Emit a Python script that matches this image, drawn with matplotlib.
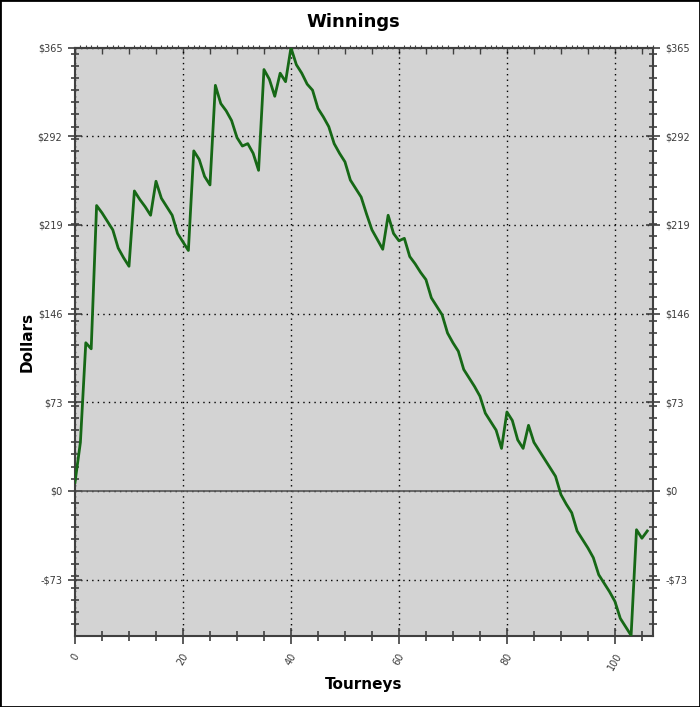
import numpy as np
import matplotlib
matplotlib.use('Agg')
import matplotlib.pyplot as plt
from matplotlib.ticker import MultipleLocator, FuncFormatter
from matplotlib.patches import Rectangle

# running winnings per tourney
tourney=np.arange(107)
winnings=[7,40,122,117,235,229,222,215,200,192,
          185,247,240,234,227,255,241,234,227,212,
          205,198,280,273,259,252,334,319,313,305,
          291,284,286,278,264,347,339,325,344,337,
          365,351,344,335,330,315,308,300,286,278,
          271,256,249,242,228,215,207,199,227,212,
          206,208,193,187,180,174,159,152,145,130,
          122,115,100,93,86,78,64,57,50,35,
          65,58,42,35,54,40,33,26,19,12,
          -3,-11,-18,-33,-40,-47,-55,-69,-76,-83,
          -91,-105,-112,-119,-32,-39,-33]
yticks=[-73,0,73,146,219,292,365]
xticks=[0,20,40,60,80,100]

fig=plt.figure(figsize=(7,7.07),dpi=100)
fig.patch.set_facecolor('white')
fig.patches.append(Rectangle((0,0),1,1,transform=fig.transFigure,fill=False,
                             edgecolor='black',linewidth=2))
ax=fig.add_axes([75/700,1-636/707,(652.7-75)/700,(636-47.7)/707])
ax.set_facecolor('#d3d3d3')

ax.plot(tourney,winnings,color='#166816',lw=2,zorder=3)
ax.axhline(0,color='#555555',lw=1.2,zorder=2)

ax.set_xlim(0,107)
ax.set_ylim(-119.5,365)
ax.set_xticks(xticks)
ax.set_yticks(yticks)
ax.xaxis.set_minor_locator(MultipleLocator(5))
ax.yaxis.set_minor_locator(MultipleLocator(10))
ax.yaxis.set_major_formatter(FuncFormatter(lambda v,p:'-$%d'%abs(v) if v<0 else '$%d'%v))
ax.grid(True,which='major',color='black',ls=(0,(1,3)),lw=1)

for s in ax.spines.values():
    s.set_color('#404040')
    s.set_linewidth(1.5)

ax.tick_params(axis='y',which='both',direction='inout',left=True,right=True,
               labelleft=True,labelright=True,labelsize=7,labelcolor='#3a3a3a',color='#404040')
ax.tick_params(axis='y',which='major',length=10,width=1.2,pad=4)
ax.tick_params(axis='y',which='minor',length=6,width=1.2)
ax.tick_params(axis='x',which='both',direction='inout',bottom=True,top=False,
               labelsize=7,labelcolor='#3a3a3a',color='#404040')
ax.tick_params(axis='x',which='major',length=12,width=1.2,pad=5)
ax.tick_params(axis='x',which='minor',length=7,width=1.2)
for lb in ax.get_xticklabels():
    lb.set_rotation(60)
    lb.set_ha('center')

# dense ticks along the top edge
top=ax.secondary_xaxis('top')
top.set_xticks(np.arange(0,108,5))
top.xaxis.set_minor_locator(MultipleLocator(1))
top.tick_params(which='major',direction='in',length=4,width=1,color='#404040',labeltop=False)
top.tick_params(which='minor',direction='out',length=2,width=0.8,color='#404040')
top.spines['top'].set_color('#404040')
top.spines['top'].set_linewidth(1.5)

fig.text(0.505,1-22/707,'Winnings',ha='center',va='center',fontsize=13,fontweight='bold')
fig.text(364/700,1-684/707,'Tourneys',ha='center',va='center',fontsize=11,fontweight='bold')
fig.text(27/700,1-342/707,'Dollars',ha='center',va='center',rotation=90,fontsize=11,fontweight='bold')

fig.savefig('out.png',dpi=100)
